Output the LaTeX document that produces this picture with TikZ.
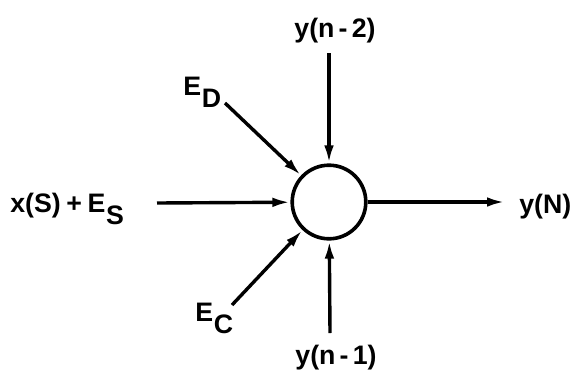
\documentclass[tikz,border=0pt]{standalone}
\usepackage{fontspec}
\setmainfont{Liberation Sans}
\usetikzlibrary{arrows.meta,positioning}
\newcommand{\lowsub}[1]{\kern0.5pt\raisebox{-0.9ex}{#1}}
\tikzset{
 junction/.style={circle,draw=black,line width=0.9mm,minimum size=1.84cm,inner sep=0pt},
 sig/.style={font=\fontsize{19}{22}\selectfont\bfseries,inner sep=0pt},
 arrow/.style={-{Latex[length=4.5mm,width=2.4mm]},line width=0.85mm,draw=black}}
\begin{document}
\begin{tikzpicture}[x=0.025cm,y=-0.025cm]
\useasboundingbox (0,0) rectangle (577,369);
\node[junction] (sum) at (329,202) {};
% signal labels
\node[sig,anchor=base west] (xs) at (10,212) {x(S)\kern4pt+\kern4pt E\lowsub{S}};
\node[sig,anchor=base west] (yN) at (519,213) {y(N)};
\node[sig,anchor=base] (yn2) at (335,37) {y(n\kern3pt-\kern3pt2)};
\node[sig,anchor=base] (yn1) at (336,364) {y(n\kern3pt-\kern3pt1)};
\node[sig,anchor=base west] (ED) at (183,95) {E\lowsub{D}};
\node[sig,anchor=base west] (EC) at (195,321) {E\lowsub{C}};
% free ends of the connectors
\coordinate (xsend) at (157,203);
\coordinate (yNend) at (505,202);
\coordinate (yn2end) at (329,53);
\coordinate (yn1end) at (330,333);
\coordinate (EDend) at (225,103);
\coordinate (ECend) at (232,305);
\draw[arrow] (xsend)--(sum); \draw[arrow] (sum)--(yNend);
\draw[arrow] (yn2end)--(sum); \draw[arrow] (yn1end)--(sum);
\draw[arrow] (EDend)--(sum); \draw[arrow] (ECend)--(sum);
\end{tikzpicture}
\end{document}
